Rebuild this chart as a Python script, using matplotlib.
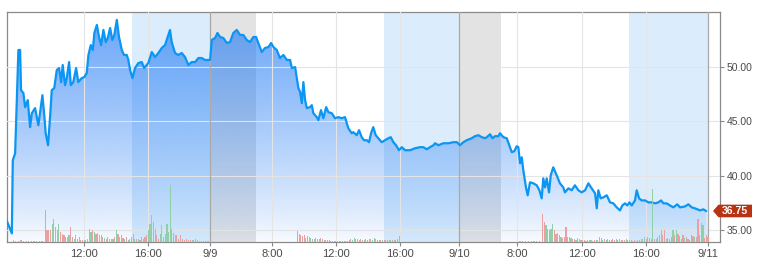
import numpy as np
import matplotlib
matplotlib.use("Agg")
import matplotlib.pyplot as plt
from matplotlib.patches import Polygon
from matplotlib.transforms import blended_transform_factory

plt.rcParams['font.family'] = ['Liberation Sans', 'DejaVu Sans']

# ---------------- data ----------------
# x axis = "session hours": hours since 04:00 on 9/8, each day showing 04:00-20:00 (16 h)
t_hours = [3.04, 3.37, 3.43, 3.58, 3.79, 3.90, 3.96, 4.11, 4.22, 4.39, 4.54, 4.65, 4.86, 5.07, 5.18,
           5.33, 5.46, 5.54, 5.69, 5.82, 5.93, 6.09, 6.25, 6.40, 6.53, 6.63, 6.78, 6.89, 7.04, 7.15,
           7.31, 7.49, 7.63, 7.85, 8.02, 8.17, 8.28, 8.43, 8.56, 8.66, 8.82, 8.96, 9.09, 9.24, 9.39,
           9.52, 9.67, 9.81, 9.94, 10.10, 10.24, 10.42, 10.56, 10.74, 10.84, 10.95, 11.10, 11.27,
           11.48, 11.70, 11.85, 12.12, 12.34, 12.55, 12.76, 12.98, 13.19, 13.40, 13.51, 13.62, 13.83,
           14.04, 14.26, 14.47, 14.69, 14.90, 15.12, 15.33, 15.54, 15.76, 16.08, 16.19, 16.40, 16.55,
           16.72, 16.93, 17.15, 17.36, 17.57, 17.79, 18.00, 18.21, 18.43, 18.64, 18.85, 19.03, 19.17,
           19.39, 19.60, 19.82, 19.99, 20.14, 20.35, 20.56, 20.78, 21.00, 21.21, 21.32, 21.53, 21.74,
           21.85, 21.96, 22.06, 22.17, 22.28, 22.49, 22.60, 22.70, 22.92, 23.02, 23.19, 23.34, 23.52,
           23.66, 23.88, 24.09, 24.30, 24.52, 24.73, 24.94, 25.16, 25.26, 25.48, 25.63, 25.80, 25.95,
           26.12, 26.27, 26.40, 26.54, 26.70, 26.87, 27.08, 27.30, 27.51, 27.66, 27.83, 28.00, 28.19,
           28.37, 28.58, 28.90, 29.22, 29.54, 29.75, 29.97, 30.18, 30.40, 30.50, 30.72, 31.03, 31.36,
           31.68, 31.90, 32.10, 32.32, 32.53, 32.85, 33.06, 33.28, 33.50, 33.71, 33.82, 34.03, 34.18,
           34.35, 34.56, 34.67, 34.88, 35.10, 35.26, 35.42, 35.58, 35.74, 35.84, 35.95, 36.06, 36.16,
           36.33, 36.44, 36.59, 36.80, 37.02, 37.19, 37.34, 37.44, 37.55, 37.66, 37.81, 37.92, 38.08,
           38.30, 38.51, 38.72, 38.83, 39.05, 39.26, 39.47, 39.69, 39.90, 40.12, 40.33, 40.54, 40.76,
           40.87, 40.97, 41.12, 41.29, 41.51, 41.72, 41.93, 42.15, 42.36, 42.51, 42.68, 42.83, 42.96,
           43.11, 43.32, 43.43, 43.58, 43.75, 43.96, 44.18, 44.40, 44.61, 44.82, 44.99, 45.14, 45.35,
           45.56, 45.78, 46.03, 46.21, 46.53, 46.74, 46.96, 47.17, 47.49, 47.70, 47.87]
price = [35.88, 34.69, 41.41, 42.05, 51.54, 51.54, 47.85, 47.58, 46.29, 46.93, 44.45, 45.73, 46.20, 44.63, 45.83,
         47.39, 45.37, 43.89, 42.79, 45.37, 47.85, 48.04, 49.70, 49.88, 48.59, 50.16, 48.31, 48.96, 50.43, 48.31,
         48.59, 49.88, 48.59, 48.96, 49.05, 49.42, 51.08, 51.99, 51.54, 53.10, 53.84, 52.73, 51.99, 53.38, 52.27,
         52.64, 53.56, 52.46, 52.92, 54.30, 52.73, 51.54, 51.08, 51.08, 50.62, 49.70, 48.96, 49.88,
         50.34, 50.43, 49.88, 50.34, 51.35, 50.89, 51.26, 51.72, 51.99, 52.92, 53.38, 52.27, 51.26,
         51.08, 51.26, 50.89, 50.16, 50.43, 50.43, 50.80, 50.80, 50.62, 50.62, 52.46, 52.64, 53.10,
         52.73, 52.64, 52.18, 52.27, 53.10, 53.38, 52.92, 52.92, 52.46, 52.27, 52.73, 52.73, 52.18,
         51.35, 51.72, 51.81, 52.18, 51.81, 51.54, 50.80, 51.08, 50.62, 50.62, 49.88, 49.97, 48.04,
         47.67, 46.66, 48.59, 46.93, 46.20, 46.29, 46.47, 45.73, 45.37, 45.09, 46.01, 45.27, 46.29,
         45.83, 45.73, 45.27, 45.37, 45.27, 45.37, 44.35, 43.89, 43.99, 43.71, 44.17, 43.53, 43.25,
         43.25, 43.07, 43.89, 44.45, 43.71, 43.43, 43.07, 43.25, 43.43, 43.53, 43.07, 42.79, 42.33,
         42.61, 42.33, 42.33, 42.51, 42.61, 42.61, 42.42, 42.61, 42.79, 42.97, 42.79, 42.97, 42.97,
         43.07, 43.07, 42.79, 43.07, 43.25, 43.43, 43.62, 43.71, 43.53, 43.43, 43.53, 43.80, 43.43,
         43.62, 43.62, 43.89, 43.53, 43.43, 42.79, 42.15, 42.24, 42.70, 42.61, 41.13, 41.68, 40.49,
         38.92, 38.19, 39.38, 39.29, 39.11, 38.65, 37.91, 39.75, 38.92, 39.75, 38.46, 40.03, 40.76,
         40.03, 39.29, 38.92, 38.46, 38.83, 38.65, 39.11, 38.65, 38.46, 38.65, 39.29, 38.83, 38.37,
         36.99, 38.65, 37.91, 38.00, 38.19, 37.54, 37.45, 37.08, 36.80, 37.26, 37.45, 37.26, 37.54,
         37.26, 37.72, 38.65, 37.91, 37.72, 37.72, 37.54, 37.54, 37.45, 37.54, 37.72, 37.45, 37.45,
         37.26, 37.08, 37.36, 37.08, 37.17, 37.36, 37.08, 36.99, 36.80, 36.90, 36.75]
last_price = 36.75

# volume segments: (start session hour, end session hour, volumes, up/down flags g=up r=down)
vol_pre1 = [2, 1, 1, 2, 1, 1, 1, 1, 1, 1, 1, 1]
dir_pre1 = "grgrgrrgrrgr"
vol_day1a = [32, 12, 12, 12, 18, 23, 15, 12, 18, 10, 8, 7, 5, 5, 7, 15, 5, 3, 7, 3,
             5, 2, 2, 2, 2, 3, 13, 10, 12, 10, 8, 9, 7, 7, 5, 4, 3, 5, 3, 3,
             3, 5, 12, 8, 5, 7, 4, 3, 5, 2, 3, 5, 8, 3, 3, 3, 2, 5, 3, 5,
             7, 12, 18, 27, 20, 13, 7, 3, 8, 17, 5, 8, 18, 10, 57]
dir_day1a = "rrrrgggggrrrrggrrggrgrrgggggrgrgrgrgrgrrgrgrgrrgrgrrrgrgrgrrrgggrrrrggrgggg"
vol_day1b = [13, 9, 7, 3, 7, 3, 2, 3, 2, 2, 2, 3, 2, 1, 1, 1, 1, 1, 1]
dir_day1b = "rrrrrrrrrrgrggrgrgg"
vol_day2 = [11, 8, 7, 6, 7, 4, 6, 5, 4, 3, 3, 4, 3, 3, 4, 3, 2, 2, 2, 2,
            1, 1, 1, 1, 1, 1, 1, 1, 1, 1, 1, 2, 3, 2, 4, 3, 3, 2, 3, 2,
            2, 3, 2, 3, 3, 2, 4, 3, 2, 2, 2, 2, 2, 2, 2, 2, 2, 2, 2, 2, 3, 6]
dir_day2 = "rrrrrgrrgrgrrgrgrgrrrgrrgrrgrrggrggrrgrrgrrgrggrrgrgrrgrgrgrrr"
vol_pre3 = [1, 1, 1, 1, 1, 1, 1, 1]
dir_pre3 = "rgrgrrgr"
vol_day3 = [28, 20, 17, 13, 12, 13, 18, 12, 8, 9, 7, 5, 4, 5, 15, 5, 5, 4, 3, 3,
            2, 4, 3, 2, 2, 2, 1, 2, 2, 2, 1, 2, 2, 2, 5, 4, 2, 3, 2, 3,
            2, 2, 3, 2, 3, 2, 3, 2, 2, 2, 3, 2, 2, 2, 1, 2, 1, 2, 2, 3,
            3, 5, 3, 5, 4, 3, 53, 3, 3, 5, 7, 12, 7, 12, 3, 4, 3, 5, 12, 7,
            12, 8, 6, 3, 7, 4, 5, 3, 2, 7, 6, 5, 5, 23, 7, 19, 17, 4, 7, 5]
dir_day3 = ("rrggrggrrg" "rgrrrgrgrr" "grrgrrgrrg" "rrgrrrgrgr" "rgrrgrrgrr"
            "grgrgrggrg" "ggrgrrgrgr" "rgrrgrrrgr" "grrrrgrrrr" "rgrrrggrrr")
volume_segments = [
    (3.45, 5.30, vol_pre1, dir_pre1),
    (5.52, 13.53, vol_day1a, dir_day1a),
    (13.62, 16.08, vol_day1b, dir_day1b),
    (21.68, 28.20, vol_day2, dir_day2),
    (35.95, 37.20, vol_pre3, dir_pre3),
    (37.40, 48.00, vol_day3, dir_day3),
]

tick_pos = [8.0, 12.1, 16.1, 20.05, 24.15, 28.26, 32.04, 35.76, 39.92, 44.03, 48.0]
tick_labels = ["12:00", "16:00", "9/9", "8:00", "12:00", "16:00", "9/10", "8:00", "12:00", "16:00", "9/11"]
day_bounds = [16.1, 32.04, 48.0]
after_hours = [(11.08, 16.1), (27.23, 32.04), (42.94, 48.0)]
pre_market = [(16.1, 19.03), (32.04, 34.7)]
price_ticks = [35, 40, 45, 50]

# ---------------- figure ----------------
W, H = 757, 275
fig = plt.figure(figsize=(W / 100, H / 100), dpi=100)
L, R, T, B = 6.7, 720, 12.3, 242
ax = fig.add_axes([L / W, (H - B) / H, (R - L) / W, (B - T) / H])
x0, x1 = 3.04, 48.77
y0, y1 = 33.9, 55.0

# volume on a twin axis (created first; it resets the tick side of ax)
ax2 = ax.twinx()

for a, b in after_hours:
    ax.axvspan(a, b, color='#dbedfc', lw=0, zorder=0)
for a, b in pre_market:
    ax.axvspan(a, b, color='#e3e3e3', lw=0, zorder=0)

t_arr = np.array(t_hours)
p_arr = np.array(price)
poly_xy = np.column_stack([np.concatenate([[t_arr[0]], t_arr, [t_arr[-1]]]),
                           np.concatenate([[y0], p_arr, [y0]])])
clip = Polygon(poly_xy, closed=True, facecolor='none', edgecolor='none')
ax.add_patch(clip)
grad = np.zeros((256, 1, 4))
grad[..., 0] = 30 / 255
grad[..., 1] = 120 / 255
grad[..., 2] = 245 / 255
frac = np.linspace(1, 0, 256)
grad[:, 0, 3] = 0.03 + 0.64 * frac ** 0.85
im = ax.imshow(grad, extent=[x0, x1, y0, y1], aspect='auto', origin='upper',
               zorder=1, interpolation='bilinear')
im.set_clip_path(clip)

for d in day_bounds:
    ax.axvline(d, color='#a9a9a9', lw=0.9, zorder=2.7)

ax.plot(t_arr, p_arr, color='#0a96f2', lw=1.6, zorder=4, solid_joinstyle='round')

ax.set_xlim(x0, x1)
ax.set_ylim(y0, y1)
ax.set_xticks(tick_pos)
ax.set_xticklabels(tick_labels)
ax.set_yticks(price_ticks)
ax.set_yticklabels([f"{v:.2f}" for v in price_ticks])
ax.yaxis.tick_right()
ax.yaxis.set_label_position('right')
ax.set_axisbelow(False)
ax.grid(True, color='#e4e4e4', lw=0.8)
ax.tick_params(axis='x', length=3, width=0.8, color='#8a8a8a', labelsize=8,
               labelcolor='#4a4a4a', pad=2)
ax.tick_params(axis='y', which='both', left=False, labelleft=False, right=True,
               labelright=True, length=3, width=0.8, color='#8a8a8a', labelsize=7.5,
               labelcolor='#4a4a4a', pad=2)
for s in ax.spines.values():
    s.set_color('#8a8a8a')
    s.set_linewidth(0.9)

ax2.set_ylim(0, 230)
ax2.set_xlim(x0, x1)
ax2.axis('off')
cmap = {'g': '#8fd0a8', 'r': '#eba0a0'}
for ts, te, vols, dirs in volume_segments:
    pos = np.linspace(ts, te, len(vols))
    ax2.bar(pos, vols, width=0.075, color=[cmap[c] for c in dirs[:len(vols)]],
            lw=0, zorder=3)

# last price tag
tr = blended_transform_factory(ax.transAxes, ax.transData)
tip = (713 - L) / (R - L)
bl = (718.5 - L) / (R - L)
br = (752 - L) / (R - L)
hh = 0.58
tag = Polygon([[tip, last_price], [bl, last_price + hh], [br, last_price + hh],
               [br, last_price - hh], [bl, last_price - hh]], closed=True,
              transform=tr, facecolor='#b83214', edgecolor='none', clip_on=False, zorder=6)
ax2.add_patch(tag)
ax2.text((bl + br) / 2, last_price, f"{last_price:.2f}", transform=tr, ha='center',
         va='center', color='white', fontsize=7.5, fontweight='bold', zorder=7, clip_on=False)

fig.savefig("out.png", dpi=100)
